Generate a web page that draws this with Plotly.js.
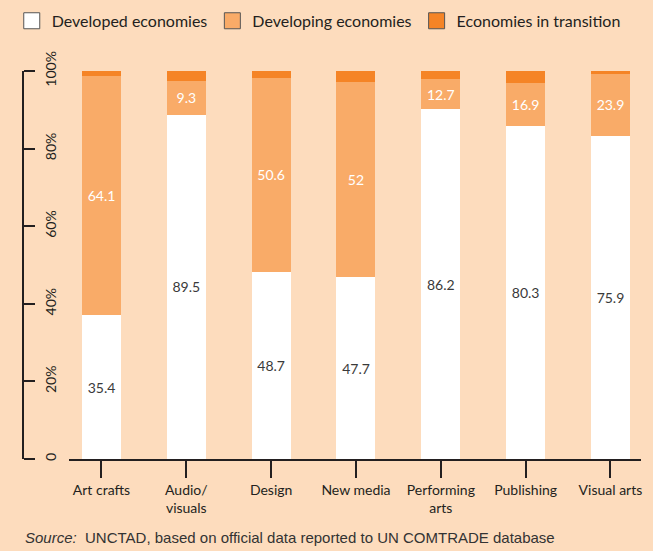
<!DOCTYPE html>
<html>
<head>
<meta charset="utf-8">
<script src="https://cdn.plot.ly/plotly-3.0.1.min.js"></script>
<style>
  html, body { margin: 0; padding: 0; background: #FDDCBD; }
  #chart { width: 653px; height: 551px; }
</style>
</head>
<body>
<div id="chart"></div>
<script>
// Categories
var categories = ["Art crafts", "Audio/<br>visuals", "Design", "New media", "Performing<br>arts", "Publishing", "Visual arts"];

// Segment heights as drawn in the picture (% of each bar)
var developedShare  = [37.0, 88.7, 48.3, 46.9, 90.2, 85.9, 83.3];
var developingShare = [61.7,  8.7, 49.9, 50.3,  7.7, 11.1, 15.9];
var transitionShare = [ 1.5,  2.8,  2.1,  3.1,  2.3,  3.3,  1.0];

// Printed value labels
var developedLabels  = ["35.4", "89.5", "48.7", "47.7", "86.2", "80.3", "75.9"];
var developingLabels = ["64.1", "9.3", "50.6", "52", "12.7", "16.9", "23.9"];
var transitionLabels = ["0.5", "1.2", "0.7", "0.8", "1.0", "2.8", "0.2"];

// Series names
var seriesNames = ["Developed economies", "Developing economies", "Economies in transition"];

// Y tick labels
var yTickVals = [0, 20, 40, 60, 80, 100];
var yTickText = ["0", "20%", "40%", "60%", "80%", "100%"];

var colDeveloped = "#FFFFFF";
var colDeveloping = "#F9AB68";
var colTransition = "#F58426";
var ink = "#231F20";
var font = "Lato, 'Open Sans', sans-serif";

var barWidth = 0.46;

var traces = [
  {
    type: "bar", x: categories, y: developedShare, name: seriesNames[0],
    marker: { color: colDeveloped, line: { width: 0 } },
    width: barWidth, text: developedLabels, textposition: "inside",
    insidetextanchor: "middle", constraintext: "none",
    textfont: { family: font, size: 14, color: "#3A3A3A" },
    cliponaxis: false, showlegend: false, hoverinfo: "skip"
  },
  {
    type: "bar", x: categories, y: developingShare, name: seriesNames[1],
    marker: { color: colDeveloping, line: { width: 0 } },
    width: barWidth, text: developingLabels, textposition: "inside",
    insidetextanchor: "middle", constraintext: "none",
    textfont: { family: font, size: 14, color: "#FFFFFF" },
    cliponaxis: false, showlegend: false, hoverinfo: "skip"
  },
  {
    type: "bar", x: categories, y: transitionShare, name: seriesNames[2],
    marker: { color: colTransition, line: { width: 0 } },
    width: barWidth, text: transitionLabels, textposition: "outside",
    constraintext: "none",
    textfont: { family: font, size: 14, color: "#3A3A3A" },
    cliponaxis: false, showlegend: false, hoverinfo: "skip"
  }
];

// Legend entries (boxes with dark outline)
var legendColors = [colDeveloped, colDeveloping, colTransition];
for (var i = 0; i < seriesNames.length; i++) {
  traces.push({
    type: "scatter", mode: "markers", x: [null], y: [null], name: seriesNames[i],
    marker: { symbol: "square", size: 16, color: legendColors[i], line: { color: "#555555", width: 1 } },
    showlegend: true, hoverinfo: "skip"
  });
}

var layout = {
  width: 653, height: 551,
  paper_bgcolor: "#FDDCBD", plot_bgcolor: "rgba(0,0,0,0)",
  margin: { l: 23, r: 12, t: 71, b: 92, pad: 0 },
  barmode: "stack",
  font: { family: font, color: ink },
  showlegend: true,
  legend: {
    orientation: "h", xref: "container", yref: "container",
    x: 0.018, y: 0.993, xanchor: "left", yanchor: "top",
    font: { family: font, size: 16, color: ink },
    bgcolor: "rgba(0,0,0,0)", itemclick: false, traceorder: "normal"
  },
  xaxis: {
    domain: [0.0744, 1],
    range: [-0.383, 6.36],
    type: "category",
    showline: true, linecolor: ink, linewidth: 2,
    ticks: "outside", ticklen: 17, tickwidth: 2, tickcolor: ink,
    tickfont: { family: font, size: 14, color: ink },
    showgrid: false, zeroline: false, fixedrange: true
  },
  yaxis: {
    range: [0, 100],
    anchor: "free", position: 0, side: "right",
    showline: true, linecolor: ink, linewidth: 2,
    ticks: "outside", ticklen: 11, tickwidth: 2, tickcolor: ink,
    tickvals: yTickVals, ticktext: yTickText, tickangle: -90,
    tickfont: { family: font, size: 14, color: ink },
    ticklabelstandoff: 4,
    showgrid: false, zeroline: false, fixedrange: true
  },
  annotations: [
    {
      xref: "paper", yref: "paper", x: 0.0, y: -0.2036,
      xanchor: "left", yanchor: "middle", showarrow: false,
      text: "<i>Source:</i>&nbsp;&nbsp;UNCTAD, based on official data reported to UN COMTRADE database",
      font: { family: "'Liberation Sans', Arial, sans-serif", size: 15, color: "#333333" }
    }
  ]
};

Plotly.newPlot("chart", traces, layout, { displayModeBar: false, staticPlot: true });
</script>
</body>
</html>
